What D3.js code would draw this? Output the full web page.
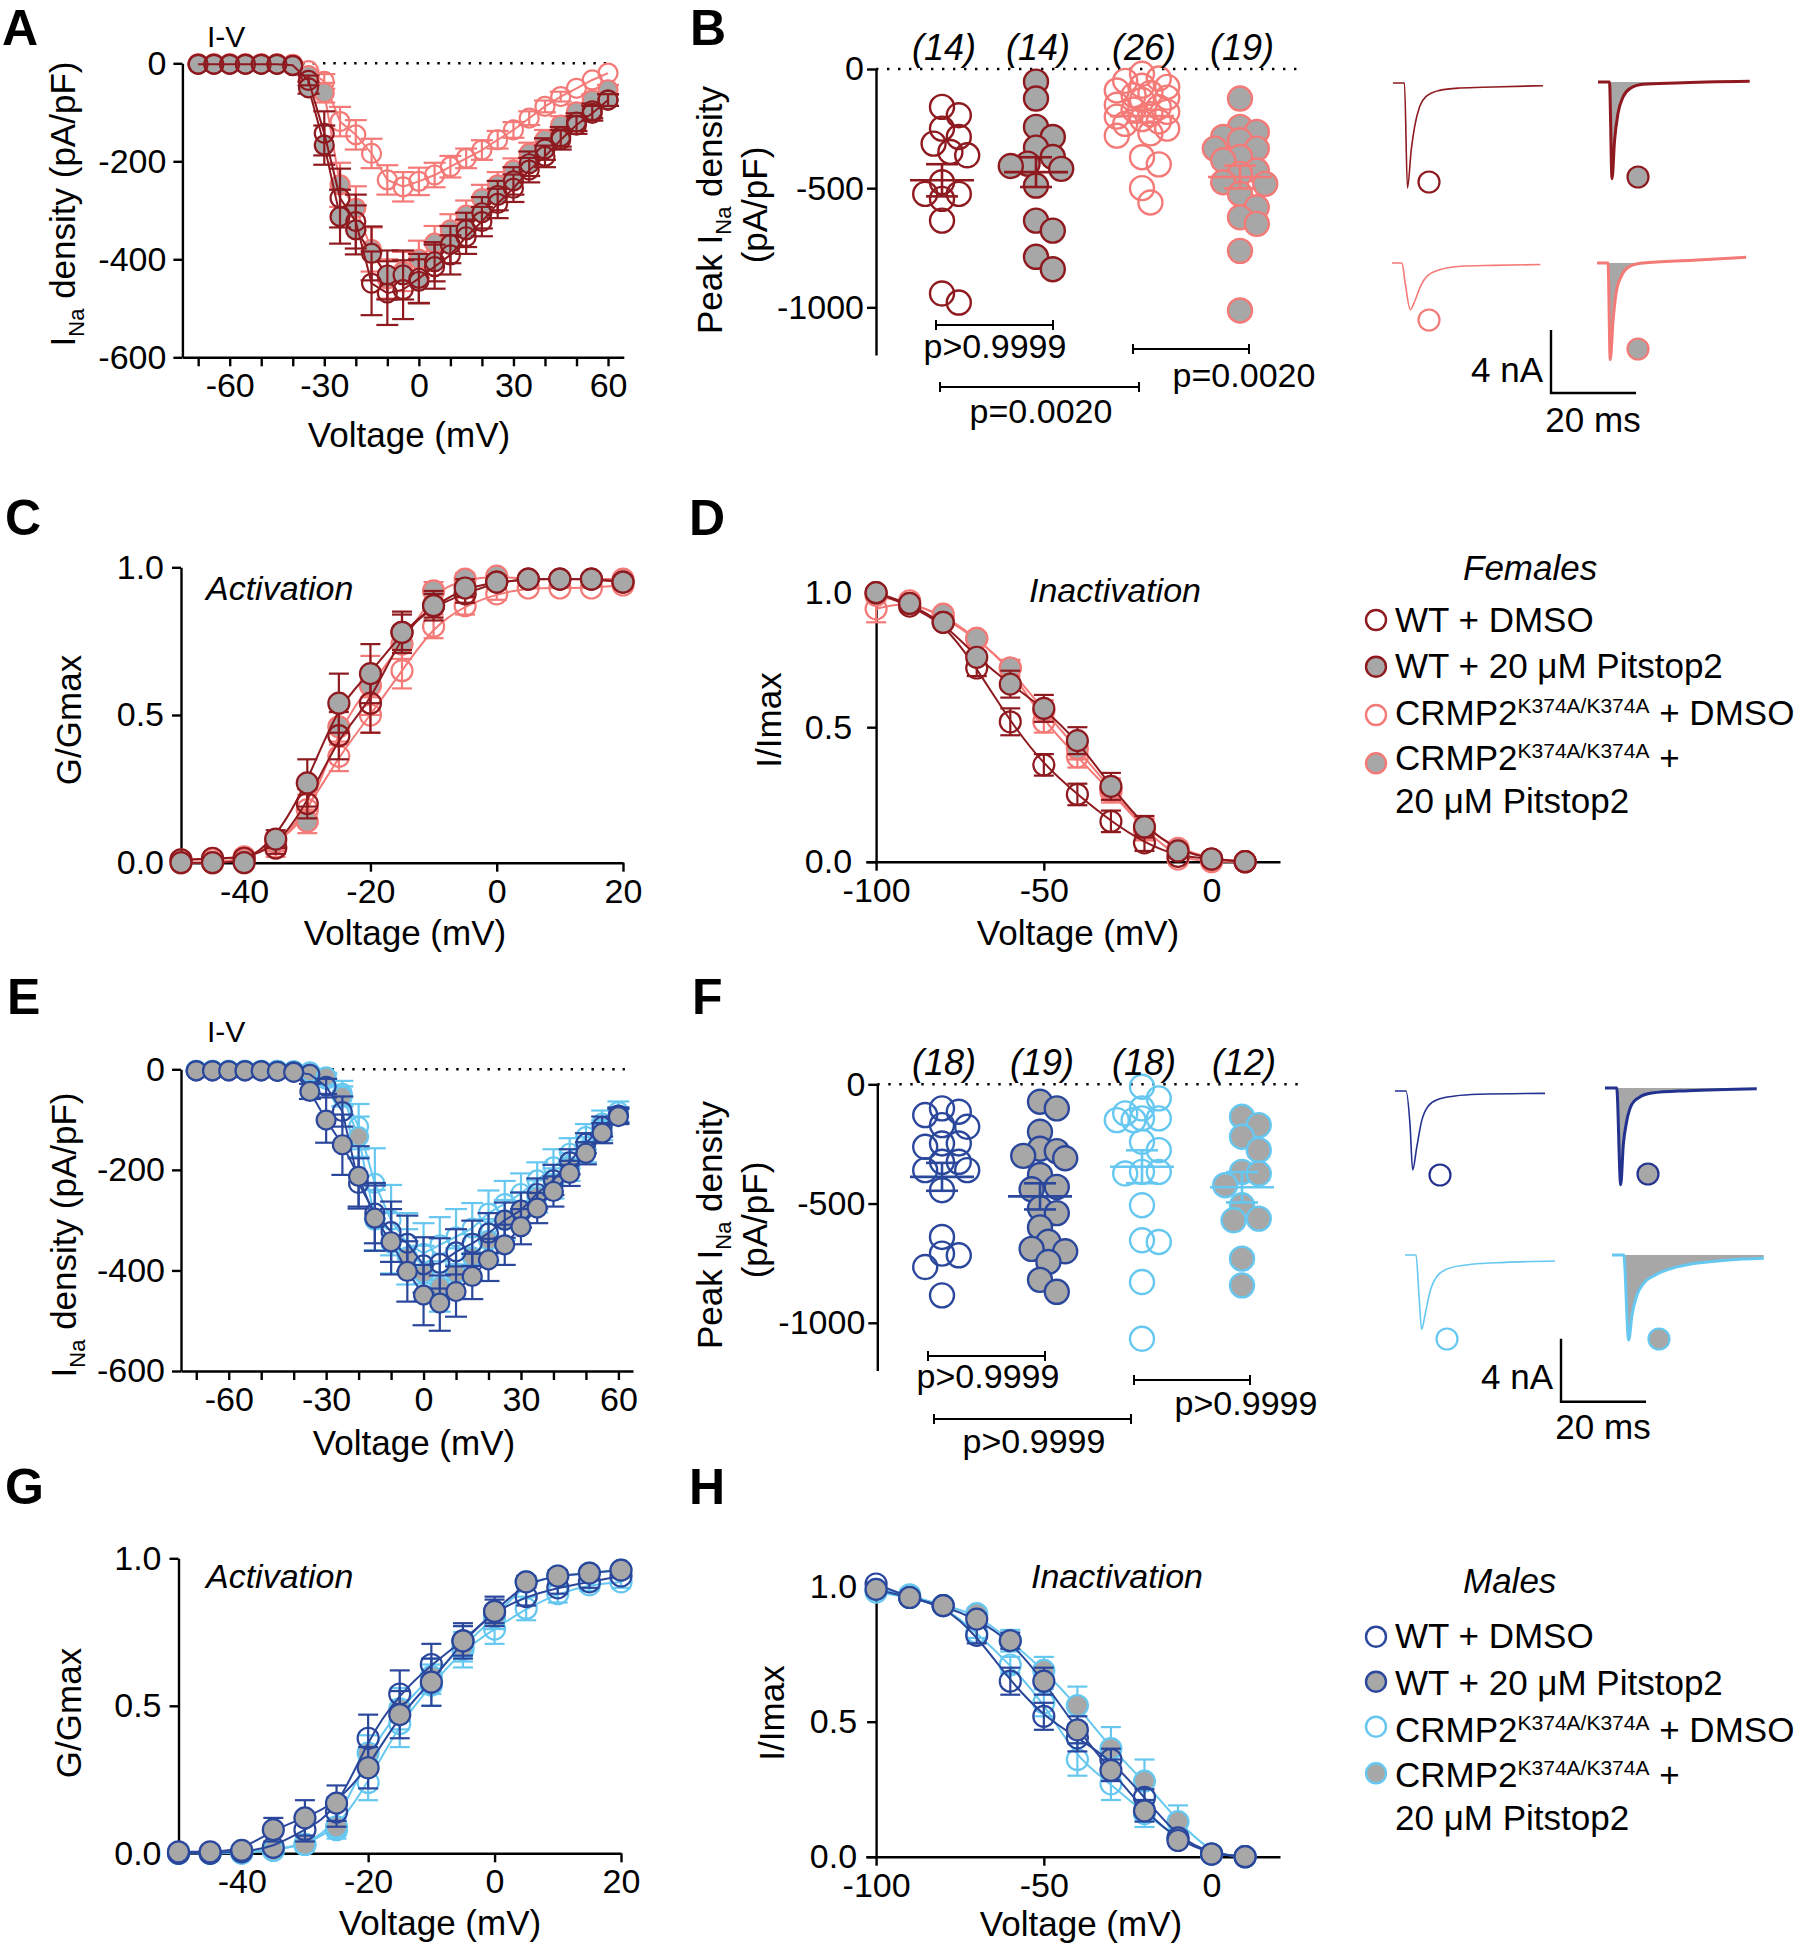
<!DOCTYPE html>
<html>
<head>
<meta charset="utf-8">
<script src="https://cdn.jsdelivr.net/npm/d3@7"></script>
<style>
  body { margin: 0; background: #fff; }
</style>
</head>
<body>
<script>
// ---------- data ----------
const ivV = [-70,-65,-60,-55,-50,-45,-40,-35,-30,-25,-20,-15,-10,-5,0,5,10,15,20,25,30,35,40,45,50,55,60];
const actV = [-50,-45,-40,-35,-30,-25,-20,-15,-10,-5,0,5,10,15,20];
const inactV = [-100,-90,-80,-70,-60,-50,-40,-30,-20,-10,0,10];

// A: females I-V (pA/pF)
const femIvWtDmso    = [-2,-2,-2,-2,-2,-2,-4,-35,-143,-275,-323,-449,-469,-462,-439,-415,-391,-354,-323,-286,-255,-218,-190,-156,-126,-102,-75];
const femIvWtDmsoSem = [1,1,1,1,1,1,2,10,45,60,55,65,65,60,50,45,40,35,30,30,28,25,22,20,18,15,12];
const femIvWtPit     = [-2,-2,-2,-2,-2,-2,-5,-50,-167,-313,-340,-388,-432,-432,-445,-405,-370,-340,-305,-270,-240,-205,-175,-150,-120,-97,-75];
const femIvWtPitSem  = [1,1,1,1,1,1,2,12,40,55,50,55,50,50,45,40,38,35,32,30,28,25,22,20,18,15,12];
const femIvKiDmso    = [-1,-1,-1,-1,-1,-1,-2,-15,-37,-119,-146,-184,-238,-252,-241,-228,-211,-194,-177,-156,-136,-112,-88,-68,-51,-34,-20];
const femIvKiDmsoSem = [1,1,1,1,1,1,2,8,15,30,30,30,30,30,28,25,22,20,20,18,16,14,12,10,8,6,5];
const femIvKiPit     = [-1,-1,-1,-1,-1,-1,-3,-25,-60,-248,-296,-380,-440,-425,-400,-367,-340,-310,-276,-248,-218,-184,-156,-126,-99,-75,-54];
const femIvKiPitSem  = [1,1,1,1,1,1,2,10,20,45,45,45,40,40,38,35,32,30,28,26,24,22,20,18,15,12,10];

// B: females peak I_Na (pA/pF)
const femPeakWtDmso = [-159,-194,-250,-285,-313,-348,-362,-475,-524,-524,-545,-636,-942,-980];
const femPeakWtPit  = [-53,-124,-243,-285,-330,-369,-397,-407,-419,-489,-636,-678,-788,-840];
const femPeakKiDmso = [-20,-40,-50,-70,-75,-90,-100,-110,-120,-130,-150,-160,-170,-180,-190,-200,-210,-220,-230,-250,-270,-280,-370,-400,-500,-560];
const femPeakKiPit  = [-124,-243,-264,-285,-299,-334,-334,-369,-383,-426,-440,-475,-482,-524,-580,-622,-650,-763,-1013];

// C: females activation (G/Gmax)
const femActWtDmso    = [0.01,0.015,0.015,0.05,0.20,0.43,0.54,0.78,0.87,0.91,0.95,0.96,0.96,0.96,0.95];
const femActWtDmsoSem = [0.01,0.01,0.01,0.02,0.05,0.08,0.1,0.06,0.04,0.03,0.02,0.01,0.01,0.01,0.01];
const femActWtPit     = [0,0,0,0.08,0.27,0.54,0.64,0.78,0.87,0.93,0.95,0.96,0.96,0.96,0.95];
const femActWtPitSem  = [0.01,0.01,0.01,0.03,0.08,0.1,0.1,0.07,0.05,0.03,0.02,0.01,0.01,0.01,0.01];
const femActKiDmso    = [0.01,0.01,0.02,0.05,0.18,0.36,0.50,0.65,0.80,0.87,0.91,0.93,0.93,0.93,0.94];
const femActKiDmsoSem = [0.01,0.01,0.01,0.03,0.05,0.05,0.06,0.06,0.04,0.03,0.02,0.01,0.01,0.01,0.01];
const femActKiPit     = [0,0,0.01,0.07,0.14,0.46,0.60,0.74,0.92,0.96,0.97,0.96,0.96,0.96,0.96];
const femActKiPitSem  = [0.01,0.01,0.01,0.03,0.04,0.06,0.1,0.05,0.03,0.02,0.01,0.01,0.01,0.01,0.01];

// D: females inactivation (I/Imax)
const femInWtDmso    = [1.0,0.95,0.89,0.72,0.52,0.36,0.25,0.15,0.07,0.02,0.01,0.0];
const femInWtDmsoSem = [0.01,0.01,0.01,0.03,0.05,0.04,0.04,0.04,0.03,0.01,0.01,0.01];
const femInWtPit     = [1.0,0.96,0.89,0.76,0.66,0.57,0.45,0.28,0.13,0.04,0.01,0.0];
const femInWtPitSem  = [0.01,0.01,0.01,0.02,0.05,0.05,0.05,0.05,0.04,0.02,0.01,0.01];
const femInKiDmso    = [0.94,0.97,0.91,0.83,0.72,0.52,0.39,0.26,0.12,0.01,0.0,0.0];
const femInKiDmsoSem = [0.05,0.01,0.01,0.02,0.03,0.04,0.04,0.04,0.04,0.01,0.01,0.01];
const femInKiPit     = [0.99,0.96,0.92,0.83,0.72,0.56,0.42,0.27,0.12,0.05,0.01,0.0];
const femInKiPitSem  = [0.01,0.01,0.01,0.02,0.03,0.04,0.04,0.04,0.04,0.02,0.01,0.01];

// E: males I-V
const maleIvWtDmso    = [-3,-3,-3,-3,-3,-4,-5,-10,-34,-84,-227,-286,-323,-346,-389,-386,-363,-346,-326,-300,-280,-247,-220,-184,-147,-114,-91];
const maleIvWtDmsoSem = [1,1,1,1,1,1,2,5,15,30,50,60,60,55,55,50,45,45,40,35,35,30,30,25,20,20,15];
const maleIvWtPit     = [-3,-3,-3,-3,-3,-4,-6,-44,-101,-150,-213,-296,-343,-402,-449,-465,-442,-412,-379,-349,-313,-276,-243,-207,-167,-127,-94];
const maleIvWtPitSem  = [1,1,1,1,1,1,2,15,45,60,60,65,65,60,60,55,50,45,42,40,35,30,30,25,22,20,15];
const maleIvKiDmso    = [-2,-2,-2,-2,-2,-2,-3,-8,-20,-48,-114,-227,-300,-346,-366,-349,-333,-316,-286,-267,-247,-220,-194,-167,-134,-107,-84];
const maleIvKiDmsoSem = [1,1,1,1,1,1,2,5,10,25,45,70,70,60,60,55,55,50,45,45,40,35,35,30,25,25,20];
const maleIvKiPit     = [-2,-2,-2,-2,-2,-2,-3,-5,-15,-54,-134,-300,-346,-373,-406,-432,-406,-373,-340,-300,-280,-253,-227,-194,-160,-121,-91];
const maleIvKiPitSem  = [1,1,1,1,1,1,2,4,8,20,40,60,60,55,55,50,50,45,42,40,35,32,30,28,25,20,15];

// F: males peak I_Na
const malePeakWtDmso = [-101,-115,-129,-171,-178,-248,-248,-262,-325,-325,-360,-360,-444,-640,-710,-717,-766,-885];
const malePeakWtPit  = [-73,-101,-199,-270,-280,-300,-310,-380,-430,-440,-520,-540,-600,-660,-690,-700,-745,-820,-870];
const malePeakKiDmso = [-10,-59,-101,-122,-143,-143,-150,-150,-241,-276,-367,-367,-374,-507,-654,-661,-829,-1067];
const malePeakKiPit  = [-136,-171,-220,-276,-367,-374,-423,-507,-563,-570,-731,-843];

// G: males activation
const maleActWtDmso    = [0,0,0.005,0.02,0.08,0.14,0.39,0.54,0.64,0.72,0.82,0.87,0.90,0.92,0.94];
const maleActWtDmsoSem = [0.01,0.01,0.01,0.01,0.04,0.05,0.08,0.08,0.07,0.06,0.05,0.03,0.02,0.02,0.01];
const maleActWtPit     = [0.005,0.005,0.01,0.08,0.12,0.17,0.29,0.47,0.58,0.72,0.82,0.92,0.94,0.95,0.96];
const maleActWtPitSem  = [0.01,0.01,0.01,0.04,0.06,0.06,0.07,0.08,0.08,0.05,0.04,0.02,0.02,0.01,0.01];
const maleActKiDmso    = [0,0,0,0.01,0.03,0.08,0.24,0.44,0.57,0.69,0.76,0.83,0.88,0.91,0.92];
const maleActKiDmsoSem = [0.01,0.01,0.01,0.01,0.02,0.03,0.06,0.08,0.07,0.06,0.05,0.04,0.03,0.02,0.02];
const maleActKiPit     = [0,0,0.005,0.01,0.03,0.09,0.34,0.49,0.60,0.70,0.80,0.92,0.94,0.95,0.96];
const maleActKiPitSem  = [0.01,0.01,0.01,0.01,0.02,0.03,0.06,0.07,0.06,0.05,0.04,0.02,0.02,0.01,0.01];

// H: males inactivation
const maleInWtDmso    = [1.01,0.96,0.93,0.82,0.65,0.52,0.44,0.36,0.22,0.07,0.01,0.0];
const maleInWtDmsoSem = [0.01,0.01,0.01,0.03,0.05,0.05,0.05,0.04,0.03,0.02,0.01,0.01];
const maleInWtPit     = [0.99,0.96,0.93,0.88,0.80,0.65,0.47,0.32,0.17,0.06,0.01,0.0];
const maleInWtPitSem  = [0.01,0.01,0.01,0.02,0.03,0.05,0.05,0.04,0.04,0.02,0.01,0.01];
const maleInKiDmso    = [0.98,0.96,0.93,0.83,0.71,0.57,0.36,0.27,0.16,0.07,0.01,0.0];
const maleInKiDmsoSem = [0.01,0.01,0.01,0.02,0.03,0.05,0.06,0.06,0.05,0.03,0.01,0.01];
const maleInKiPit     = [0.99,0.97,0.93,0.90,0.80,0.69,0.56,0.40,0.28,0.13,0.01,0.0];
const maleInKiPitSem  = [0.01,0.01,0.01,0.02,0.04,0.05,0.07,0.08,0.08,0.06,0.01,0.01];

// representative current traces: [time ms, current nA]
const femTraceWtDmso  = [[0,0],[2.7,0],[3.4,-6.67],[4.3,-4.23],[5.1,-2.75],[6.3,-1.48],[7.8,-0.85],[11,-0.47],[15.7,-0.32],[23.5,-0.25],[35.3,-0.17]];
const femTraceWtPit   = [[0,0],[2.7,0],[3.3,-6.14],[3.9,-3.7],[4.7,-2.0],[5.9,-0.95],[7.5,-0.42],[10.6,-0.15],[18.4,-0.06],[35.7,0.04]];
const femTraceKiDmso  = [[0,0],[2.35,0],[3.1,-1.27],[4.3,-2.96],[5.5,-2.33],[6.7,-1.48],[8.2,-0.85],[11.4,-0.42],[16.1,-0.21],[23.9,-0.15],[34.9,-0.1]];
const femTraceKiPit   = [[0,0],[2.6,0],[3.1,-6.14],[3.8,-3.6],[4.5,-1.9],[5.7,-0.85],[7.7,-0.21],[10.8,0],[22.6,0.17],[35.1,0.36]];
const maleTraceWtDmso = [[0,0],[2.59,0],[3.53,-2.12],[4.16,-5.02],[5.1,-3.6],[6.27,-1.9],[7.84,-0.95],[10.2,-0.53],[14.1,-0.32],[19.6,-0.21],[35.3,-0.15]];
const maleTraceWtPit  = [[0,0],[2.75,0],[3.69,-6.14],[4.31,-3.6],[5.1,-2.12],[6.27,-1.06],[7.84,-0.63],[11,-0.32],[19.6,-0.17],[35.7,-0.04]];
const maleTraceKiDmso = [[0,0],[2.59,0],[3.29,-2.54],[3.92,-4.72],[4.71,-3.81],[5.88,-2.33],[7.45,-1.38],[10.2,-0.85],[15.7,-0.59],[23.5,-0.47],[35.3,-0.38]];
const maleTraceKiPit  = [[0,0],[2.75,0],[3.92,-5.4],[4.71,-3.81],[5.88,-2.54],[7.45,-1.8],[10.2,-1.27],[14.1,-0.85],[19.6,-0.53],[27.5,-0.32],[35.7,-0.21]];

const ivTicks = [-70,-60,-50,-40,-30,-20,-10,0,10,20,30,40,50,60];
const ivTickLabels = [-60,-30,0,30,60];

// ---------- style ----------
const FONT = "'Liberation Sans', Arial, Helvetica, sans-serif";
const DRED = "#8e1a1f", SALMON = "#f47a78", DBLUE = "#2a479c", LBLUE = "#66c8f0", GRAY = "#a7a7a7";

const svg = d3.select("body").append("svg")
  .attr("width", 1800).attr("height", 1951)
  .attr("font-family", FONT)
  .style("background", "#fff");

function txt(x, y, s, size, o = {}) {
  return svg.append("text").attr("x", x).attr("y", y)
    .attr("font-size", size)
    .attr("text-anchor", o.anchor || "start")
    .attr("font-style", o.italic ? "italic" : null)
    .attr("font-weight", o.bold ? "bold" : null)
    .text(s);
}

function styleAxis(a, size) {
  a.attr("font-family", FONT).attr("font-size", size);
  a.select(".domain").attr("stroke-width", 2.4);
  a.selectAll(".tick line").attr("stroke-width", 2.4);
  a.selectAll(".tick text").attr("fill", "#000");
}

function vTitle(x, y, text) {
  svg.append("text").attr("transform", `translate(${x},${y}) rotate(-90)`)
    .attr("text-anchor", "middle").attr("font-size", 35).text(text);
}

function inaTitle(x, y, before, after) {
  const t = svg.append("text").attr("transform", `translate(${x},${y}) rotate(-90)`)
    .attr("text-anchor", "middle").attr("font-size", 35);
  t.append("tspan").text(before + "I");
  t.append("tspan").attr("font-size", 22).attr("dy", 9).text("Na");
  t.append("tspan").attr("dy", -9).text(after);
}

// ---------- xy panels (I-V, activation, inactivation) ----------
function xyPanel(p) {
  const x = d3.scaleLinear().domain(p.xDomain).range(p.xRange);
  const y = d3.scaleLinear().domain(p.yDomain).range(p.yRange);
  const g = svg.append("g");

  if (p.zero) {
    g.append("line")
      .attr("x1", x(p.zero[0])).attr("x2", x(p.zero[1]))
      .attr("y1", y(0)).attr("y2", y(0))
      .attr("stroke", "#000").attr("stroke-width", 2.4)
      .attr("stroke-dasharray", "2.4,8");
  }

  const xa = g.append("g").attr("transform", `translate(0,${p.yRange[0]})`)
    .call(d3.axisBottom(x).tickValues(p.xTicks).tickSize(9).tickSizeOuter(0).tickPadding(7)
      .tickFormat(d => p.xLabels.includes(d) ? `${d}` : ""));
  styleAxis(xa, 34);

  const ya = g.append("g").attr("transform", `translate(${x(p.yAxisAt)},0)`)
    .call(d3.axisLeft(y).tickValues(p.yTicks).tickSize(9).tickSizeOuter(0).tickPadding(p.yPad || 7)
      .tickFormat(p.yFmt));
  styleAxis(ya, 34);

  p.series.forEach(s => {
    const pts = p.v.map((v, i) => ({ v, m: s.m[i], e: s.e[i] }));
    g.append("path").datum(pts)
      .attr("fill", "none").attr("stroke", s.color).attr("stroke-width", 2)
      .attr("d", d3.line().x(d => x(d.v)).y(d => y(d.m)).curve(p.curve));

    const eb = g.append("g").attr("stroke", s.color).attr("stroke-width", 2.2);
    pts.forEach(d => {
      const cx = x(d.v), y1 = y(d.m - d.e), y2 = y(d.m + d.e);
      if (Math.abs(y1 - y2) / 2 < 4) return;
      eb.append("line").attr("x1", cx).attr("x2", cx).attr("y1", y1).attr("y2", y2);
      [y1, y2].forEach(yy => eb.append("line")
        .attr("x1", cx - p.cap).attr("x2", cx + p.cap).attr("y1", yy).attr("y2", yy));
    });

    g.append("g").selectAll("circle").data(pts).join("circle")
      .attr("cx", d => x(d.v)).attr("cy", d => y(d.m)).attr("r", p.r)
      .attr("fill", s.filled ? GRAY : "none")
      .attr("stroke", s.color).attr("stroke-width", 2.2);
  });
}

function series(m, e, color, filled) { return { m, e, color, filled }; }

// ---------- scatter panels (peak I_Na) ----------
// simple dodge layout, kept within +/- maxOff of the column centre
function swarm(vals, y, cx, r) {
  const minD = r * 1.35, step = r * 0.7, maxOff = 30;
  const placed = [];
  const cands = [0];
  for (let k = 1; k * step <= maxOff; k++) cands.push(k * step, -k * step);
  return vals.map(v => {
    const py = y(v);
    let best = null, bestD = -1;
    for (const off of cands) {
      const px = cx + off;
      const d = placed.length ? d3.min(placed, q => Math.hypot(q[0] - px, q[1] - py)) : Infinity;
      if (d >= minD) { best = [px, py]; break; }
      if (d > bestD) { bestD = d; best = [px, py]; }
    }
    placed.push(best);
    return best;
  });
}

function dotPanel(p) {
  const y = d3.scaleLinear().domain([-1200, 0]).range(p.yRange);
  const g = svg.append("g");
  g.append("line").attr("x1", p.axisX).attr("x2", p.zeroEnd)
    .attr("y1", y(0)).attr("y2", y(0))
    .attr("stroke", "#000").attr("stroke-width", 2.4).attr("stroke-dasharray", "2.4,8.6");

  const ya = g.append("g").attr("transform", `translate(${p.axisX},0)`)
    .call(d3.axisLeft(y).tickValues([-1000, -500, 0]).tickSize(9).tickSizeOuter(0).tickPadding(3)
      .tickFormat(d => `${d}`));
  styleAxis(ya, 34);

  p.groups.forEach((grp, i) => {
    const cx = p.centers[i];
    const pos = swarm(grp.vals, y, cx, p.r);
    g.append("g").selectAll("circle").data(pos).join("circle")
      .attr("cx", d => d[0]).attr("cy", d => d[1]).attr("r", p.r)
      .attr("fill", grp.filled ? GRAY : "none")
      .attr("stroke", grp.color).attr("stroke-width", 2.4);

    const mean = d3.mean(grp.vals);
    const sem = d3.deviation(grp.vals) / Math.sqrt(grp.vals.length);
    const mg = g.append("g").attr("stroke", grp.color).attr("stroke-width", 2.6);
    mg.append("line").attr("x1", cx - 32).attr("x2", cx + 32).attr("y1", y(mean)).attr("y2", y(mean));
    mg.append("line").attr("x1", cx).attr("x2", cx).attr("y1", y(mean - sem)).attr("y2", y(mean + sem));
    [mean - sem, mean + sem].forEach(v => mg.append("line")
      .attr("x1", cx - 16).attr("x2", cx + 16).attr("y1", y(v)).attr("y2", y(v)));

    txt(cx + 2, p.nY, `(${grp.vals.length})`, 36, { anchor: "middle", italic: true });
  });

  p.brackets.forEach(b => {
    g.append("path")
      .attr("d", `M${b.x1},${b.y - 5}V${b.y + 5}M${b.x1},${b.y}H${b.x2}M${b.x2},${b.y - 5}V${b.y + 5}`)
      .attr("fill", "none").attr("stroke", "#000").attr("stroke-width", 2);
    txt(b.tx, b.ty, b.label, 34, { anchor: "middle" });
  });
}

// ---------- traces ----------
const tS = d3.scaleLinear().domain([0, 20]).range([0, 85]);   // ms -> px
const iS = d3.scaleLinear().domain([0, 4]).range([0, -63]);   // nA -> px

function drawTrace(ox, oy, data, color, w, shaded, mark) {
  const g = svg.append("g").attr("transform", `translate(${ox},${oy})`);
  if (shaded) {
    g.append("path").datum(data).attr("fill", GRAY)
      .attr("d", d3.area().x(d => tS(d[0])).y0(iS(0)).y1(d => iS(Math.min(0, d[1]))).curve(d3.curveMonotoneX));
  }
  g.append("path").datum(data).attr("fill", "none")
    .attr("stroke", color).attr("stroke-width", w).attr("stroke-linejoin", "round")
    .attr("d", d3.line().x(d => tS(d[0])).y(d => iS(d[1])).curve(d3.curveMonotoneX));
  svg.append("circle").attr("cx", mark[0]).attr("cy", mark[1]).attr("r", 10.5)
    .attr("fill", shaded ? GRAY : "none").attr("stroke", color).attr("stroke-width", 2.2);
}

function scaleBar(x0, y0, ty1, ty2) {
  svg.append("path").attr("d", `M${x0},${y0 + iS(4)}V${y0}H${x0 + tS(20)}`)
    .attr("fill", "none").attr("stroke", "#000").attr("stroke-width", 2.4);
  txt(x0 - 8, ty1, "4 nA", 35, { anchor: "end" });
  txt(x0 + 42, ty2, "20 ms", 35, { anchor: "middle" });
}

// ---------- legends ----------
function legend(title, tx, ty, colors, ys, bases) {
  txt(tx, ty, title, 35, { italic: true });
  const fills = [false, true, false, true];
  colors.forEach((c, i) => svg.append("circle").attr("cx", 1376).attr("cy", ys[i]).attr("r", 10)
    .attr("fill", fills[i] ? GRAY : "none").attr("stroke", c).attr("stroke-width", 2.4));
  txt(1395, bases[0], "WT + DMSO", 35);
  txt(1395, bases[1], "WT + 20 μM Pitstop2", 35);
  [2, 3].forEach(i => {
    const t = txt(1395, bases[i], "", 35);
    t.append("tspan").text("CRMP2");
    t.append("tspan").attr("font-size", 21).attr("dy", -12).text("K374A/K374A");
    t.append("tspan").attr("dy", 12).text(i === 2 ? " + DMSO" : " +");
  });
  txt(1395, bases[4], "20 μM Pitstop2", 35);
}

// ================= FEMALES =================
txt(2, 45, "A", 50, { bold: true });
txt(207, 47, "I-V", 30);
xyPanel({
  v: ivV, xDomain: [-75, 65], xRange: [182.4, 623.8], yDomain: [-600, 0], yRange: [357.3, 63.3],
  yAxisAt: -75, xTicks: ivTicks, xLabels: ivTickLabels, yTicks: [-600, -400, -200, 0],
  yFmt: d => `${d}`, r: 9.5, cap: 11, curve: d3.curveLinear, zero: [-70, 60],
  series: [
    series(femIvKiDmso, femIvKiDmsoSem, SALMON, false),
    series(femIvKiPit, femIvKiPitSem, SALMON, true),
    series(femIvWtPit, femIvWtPitSem, DRED, true),
    series(femIvWtDmso, femIvWtDmsoSem, DRED, false)
  ]
});
inaTitle(75, 204, "", " density (pA/pF)");
txt(409, 447, "Voltage (mV)", 35, { anchor: "middle" });

txt(690, 45, "B", 50, { bold: true });
dotPanel({
  yRange: [355, 69], axisX: 876, zeroEnd: 1302, r: 12, nY: 60,
  centers: [942, 1036, 1142, 1240],
  groups: [
    { vals: femPeakWtDmso, color: DRED, filled: false },
    { vals: femPeakWtPit, color: DRED, filled: true },
    { vals: femPeakKiDmso, color: SALMON, filled: false },
    { vals: femPeakKiPit, color: SALMON, filled: true }
  ],
  brackets: [
    { x1: 936, x2: 1053, y: 325, tx: 995, ty: 358, label: "p>0.9999" },
    { x1: 1133, x2: 1249, y: 349, tx: 1244, ty: 387, label: "p=0.0020" },
    { x1: 940, x2: 1139, y: 387, tx: 1041, ty: 423, label: "p=0.0020" }
  ]
});
inaTitle(722, 210, "Peak ", " density");
vTitle(767, 205, "(pA/pF)");

drawTrace(1393, 83, femTraceWtDmso, DRED, 1.6, false, [1429, 182]);
drawTrace(1598, 82, femTraceWtPit, DRED, 3, true, [1638, 177]);
drawTrace(1392, 263, femTraceKiDmso, SALMON, 1.6, false, [1429, 320]);
drawTrace(1597, 263, femTraceKiPit, SALMON, 3, true, [1638, 349]);
scaleBar(1551, 393, 382, 432);

txt(5, 535, "C", 50, { bold: true });
xyPanel({
  v: actV, xDomain: [-50, 20], xRange: [181, 623], yDomain: [0, 1], yRange: [862.7, 567.3],
  yAxisAt: -50, xTicks: [-40, -20, 0, 20], xLabels: [-40, -20, 0, 20], yTicks: [0, 0.5, 1],
  yFmt: d3.format(".1f"), yPad: 8, r: 10.5, cap: 10, curve: d3.curveBasis,
  series: [
    series(femActKiDmso, femActKiDmsoSem, SALMON, false),
    series(femActKiPit, femActKiPitSem, SALMON, true),
    series(femActWtDmso, femActWtDmsoSem, DRED, false),
    series(femActWtPit, femActWtPitSem, DRED, true)
  ]
});
txt(206, 600, "Activation", 34, { italic: true });
vTitle(81, 720, "G/Gmax");
txt(405, 945, "Voltage (mV)", 35, { anchor: "middle" });

txt(689, 535, "D", 50, { bold: true });
xyPanel({
  v: inactV, xDomain: [-103.1, 20.4], xRange: [865.7, 1280], yDomain: [0, 1], yRange: [861.7, 592.7],
  yAxisAt: -100, xTicks: [-100, -50, 0], xLabels: [-100, -50, 0], yTicks: [0, 0.5, 1],
  yFmt: d3.format(".1f"), yPad: 15, r: 10.5, cap: 10, curve: d3.curveBasis,
  series: [
    series(femInKiDmso, femInKiDmsoSem, SALMON, false),
    series(femInKiPit, femInKiPitSem, SALMON, true),
    series(femInWtDmso, femInWtDmsoSem, DRED, false),
    series(femInWtPit, femInWtPitSem, DRED, true)
  ]
});
txt(1029, 602, "Inactivation", 34, { italic: true });
vTitle(781, 720, "I/Imax");
txt(1078, 945, "Voltage (mV)", 35, { anchor: "middle" });

legend("Females", 1463, 580, [DRED, DRED, SALMON, SALMON],
  [620, 666.7, 715, 763.3], [631.7, 678.3, 725, 770, 813.3]);

// ================= MALES =================
txt(7, 1014, "E", 50, { bold: true });
txt(207, 1042, "I-V", 30);
xyPanel({
  v: ivV, xDomain: [-74.7, 64.5], xRange: [181, 633], yDomain: [-600, 0], yRange: [1371, 1069.3],
  yAxisAt: -74.7, xTicks: ivTicks, xLabels: ivTickLabels, yTicks: [-600, -400, -200, 0],
  yFmt: d => `${d}`, r: 9.5, cap: 11, curve: d3.curveLinear, zero: [-70, 62],
  series: [
    series(maleIvKiDmso, maleIvKiDmsoSem, LBLUE, false),
    series(maleIvKiPit, maleIvKiPitSem, LBLUE, true),
    series(maleIvWtDmso, maleIvWtDmsoSem, DBLUE, false),
    series(maleIvWtPit, maleIvWtPitSem, DBLUE, true)
  ]
});
inaTitle(76, 1235, "", " density (pA/pF)");
txt(414, 1455, "Voltage (mV)", 35, { anchor: "middle" });

txt(692, 1014, "F", 50, { bold: true });
dotPanel({
  yRange: [1370.5, 1084.3], axisX: 877.3, zeroEnd: 1304, r: 12, nY: 1075,
  centers: [942, 1040, 1142, 1242],
  groups: [
    { vals: malePeakWtDmso, color: DBLUE, filled: false },
    { vals: malePeakWtPit, color: DBLUE, filled: true },
    { vals: malePeakKiDmso, color: LBLUE, filled: false },
    { vals: malePeakKiPit, color: LBLUE, filled: true }
  ],
  brackets: [
    { x1: 928, x2: 1045, y: 1356, tx: 988, ty: 1388, label: "p>0.9999" },
    { x1: 1134, x2: 1250, y: 1380, tx: 1246, ty: 1415, label: "p>0.9999" },
    { x1: 934, x2: 1131, y: 1419, tx: 1034, ty: 1453, label: "p>0.9999" }
  ]
});
inaTitle(722, 1225, "Peak ", " density");
vTitle(767, 1220, "(pA/pF)");

drawTrace(1395, 1091, maleTraceWtDmso, "#23318f", 1.6, false, [1440, 1175]);
drawTrace(1605, 1088, maleTraceWtPit, "#23318f", 3, true, [1648, 1174]);
drawTrace(1405, 1255, maleTraceKiDmso, LBLUE, 1.6, false, [1447, 1339]);
drawTrace(1612, 1255, maleTraceKiPit, LBLUE, 3, true, [1659, 1339]);
scaleBar(1561, 1401.7, 1389, 1439);

txt(5, 1504, "G", 50, { bold: true });
xyPanel({
  v: actV, xDomain: [-50, 20], xRange: [178.5, 621], yDomain: [0, 1], yRange: [1853.3, 1558.3],
  yAxisAt: -50, xTicks: [-40, -20, 0, 20], xLabels: [-40, -20, 0, 20], yTicks: [0, 0.5, 1],
  yFmt: d3.format(".1f"), yPad: 8, r: 10.5, cap: 10, curve: d3.curveBasis,
  series: [
    series(maleActKiDmso, maleActKiDmsoSem, LBLUE, false),
    series(maleActKiPit, maleActKiPitSem, LBLUE, true),
    series(maleActWtDmso, maleActWtDmsoSem, DBLUE, false),
    series(maleActWtPit, maleActWtPitSem, DBLUE, true)
  ]
});
txt(206, 1588, "Activation", 34, { italic: true });
vTitle(81, 1713, "G/Gmax");
txt(440, 1935, "Voltage (mV)", 35, { anchor: "middle" });

txt(689, 1504, "H", 50, { bold: true });
xyPanel({
  v: inactV, xDomain: [-103.1, 20.4], xRange: [865.7, 1280], yDomain: [0, 1], yRange: [1856.7, 1586.7],
  yAxisAt: -100, xTicks: [-100, -50, 0], xLabels: [-100, -50, 0], yTicks: [0, 0.5, 1],
  yFmt: d3.format(".1f"), yPad: 10, r: 10.5, cap: 10, curve: d3.curveBasis,
  series: [
    series(maleInKiDmso, maleInKiDmsoSem, LBLUE, false),
    series(maleInKiPit, maleInKiPitSem, LBLUE, true),
    series(maleInWtDmso, maleInWtDmsoSem, DBLUE, false),
    series(maleInWtPit, maleInWtPitSem, DBLUE, true)
  ]
});
txt(1031, 1588, "Inactivation", 34, { italic: true });
vTitle(784, 1713, "I/Imax");
txt(1081, 1936, "Voltage (mV)", 35, { anchor: "middle" });

legend("Males", 1463, 1593, [DBLUE, DBLUE, LBLUE, LBLUE],
  [1636.7, 1681.7, 1726.7, 1773.3], [1648.3, 1695, 1741.7, 1786.7, 1830]);
</script>
</body>
</html>
